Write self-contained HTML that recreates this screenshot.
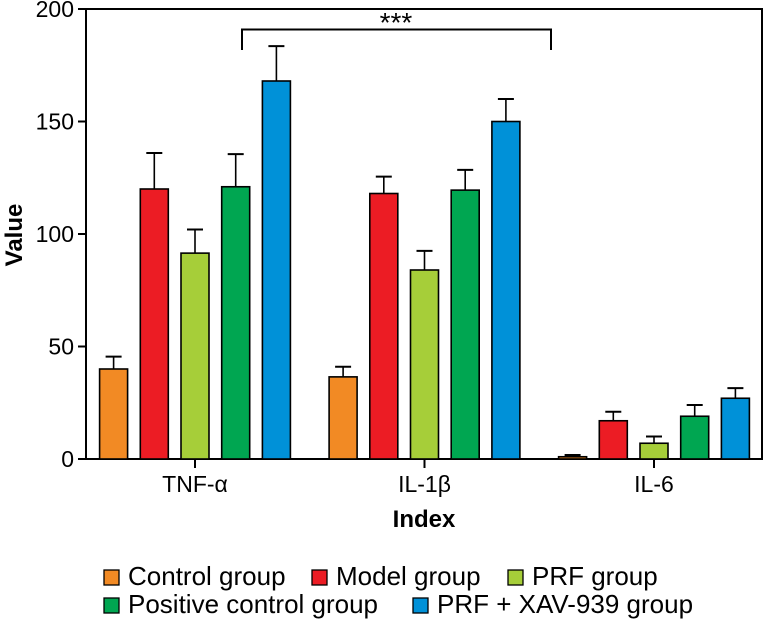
<!DOCTYPE html>
<html><head><meta charset="utf-8"><style>
body{margin:0;background:#fff;width:766px;height:623px;overflow:hidden}
svg text{font-family:"Liberation Sans",sans-serif}
</style></head><body>
<svg id="c" width="766" height="623"></svg>
<script>
const categories=["TNF-α","IL-1β","IL-6"];
const seriesNames=["Control group","Model group","PRF group","Positive control group","PRF + XAV-939 group"];
const colors=["#f28a24","#ec1c24","#a6ce39","#00a651","#0091d8"];
const controlVals=[40,36.5,1];
const modelVals=[120,118,17];
const prfVals=[91.5,84,7];
const posVals=[121,119.5,19];
const xavVals=[168,150,27];
const controlErr=[5.5,4.5,0.8];
const modelErr=[16,7.5,4];
const prfErr=[10.5,8.5,3];
const posErr=[14.5,9,5];
const xavErr=[15.5,10,4.5];
const yTicks=[0,50,100,150,200];
const vals=[controlVals,modelVals,prfVals,posVals,xavVals];
const errs=[controlErr,modelErr,prfErr,posErr,xavErr];
const svg=document.getElementById('c');const NS="http://www.w3.org/2000/svg";
function mk(t,a,p){const e=document.createElementNS(NS,t);for(const k in a)e.setAttribute(k,a[k]);(p||svg).appendChild(e);return e;}
const x0=86,x1=762,yT=9,yB=459;
const y=v=>yB-(v/200)*(yB-yT);
const gx=i=>195+i*229.5;
const bx=(i,s)=>gx(i)+(s-2)*40.7;
const bw=28;
let f=mk('rect',{x:x0,y:yT,width:x1-x0,height:yB-yT,fill:'none',stroke:'#000','stroke-width':2});

yTicks.forEach(t=>{
 let l=mk('line',{x1:x0-8,x2:x0,y1:y(t),y2:y(t),stroke:'#000','stroke-width':2});
 
 let tx=mk('text',{x:x0-12,y:y(t)+8,'text-anchor':'end','font-size':23});tx.textContent=t;
 
});
categories.forEach((c,i)=>{
 let l=mk('line',{x1:gx(i),x2:gx(i),y1:yB,y2:yB+9,stroke:'#000','stroke-width':2});
 
 let tx=mk('text',{x:gx(i),y:yB+33,'text-anchor':'middle','font-size':23});tx.textContent=c;
 
 vals.forEach((vs,s)=>{
  const cx=bx(i,s),v=vs[i],e=errs[s][i];
  let el=mk('line',{x1:cx,x2:cx,y1:y(v),y2:y(v+e),stroke:'#000','stroke-width':1.6});
  
  let ec=mk('line',{x1:cx-8,x2:cx+8,y1:y(v+e),y2:y(v+e),stroke:'#000','stroke-width':2});
  
  let r=mk('rect',{x:cx-bw/2,y:y(v),width:bw,height:yB-y(v),fill:colors[s],stroke:'#000','stroke-width':1.6});
  
 });
});
let br=mk('path',{d:`M242 50 V29.5 H551 V50`,fill:'none',stroke:'#000','stroke-width':2});

let st=mk('text',{x:396,y:32,'text-anchor':'middle','font-size':28});st.textContent='***';

let xt=mk('text',{x:424,y:527,'text-anchor':'middle','font-size':24,'font-weight':'bold'});xt.textContent='Index';

let yt=mk('text',{x:22,y:235,'text-anchor':'middle','font-size':24,'font-weight':'bold',transform:'rotate(-90 22 235)'});yt.textContent='Value';

const lpos=[[104,585],[312,585],[508,585],[104,613],[413,613]];
seriesNames.forEach((n,s)=>{
 const [lx,ly]=lpos[s];
 let r=mk('rect',{x:lx,y:ly-15,width:15,height:15,fill:colors[s],stroke:'#000','stroke-width':1.3});
 
 let t=mk('text',{x:lx+24,y:ly,'font-size':26});t.textContent=n;
 
});
</script>
</body></html>
